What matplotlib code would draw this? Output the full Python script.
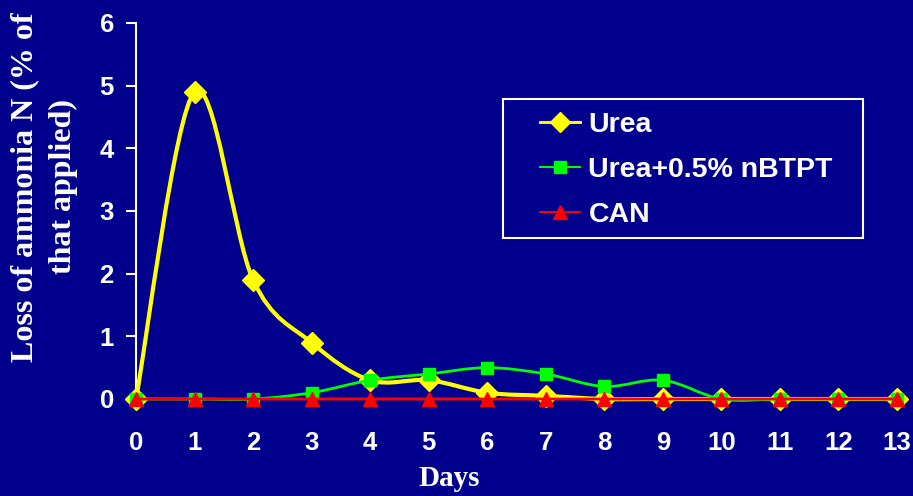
import numpy as np
import matplotlib.pyplot as plt
from matplotlib.path import Path
from matplotlib.patches import PathPatch, Rectangle
from matplotlib.lines import Line2D

# data
days = list(range(14))
urea = [0, 4.9, 1.9, 0.9, 0.3, 0.3, 0.1, 0.05, 0, 0, 0, 0, 0, 0]
urea_nbtpt = [0, 0, 0, 0.1, 0.3, 0.4, 0.5, 0.4, 0.2, 0.3, 0, 0, 0, 0]
can = [0, 0, 0, 0, 0, 0, 0, 0, 0, 0, 0, 0, 0, 0]

bg = '#00008C'


def smooth_path(x, y):
    # Excel-style smoothed line: cubic Bezier through the points
    pts = np.column_stack([x, y]).astype(float)
    padded = np.vstack([pts[0], pts, pts[-1]])
    verts = [pts[0]]
    codes = [Path.MOVETO]
    for i in range(len(pts) - 1):
        p0, p1, p2, p3 = padded[i], padded[i + 1], padded[i + 2], padded[i + 3]
        verts += [p1 + (p2 - p0) / 6, p2 - (p3 - p1) / 6, p2]
        codes += [Path.CURVE4] * 3
    return Path(verts, codes)


fig = plt.figure(figsize=(9.13, 4.96), dpi=100, facecolor=bg)
ax = fig.add_axes([136 / 913, 1 - 399 / 496, 761 / 913, 376 / 496])
ax.set_facecolor(bg)

series = [
    (urea, '#FFFF00', 'D', 11, 3.0, 'Urea'),
    (urea_nbtpt, '#00FF00', 's', 9, 2.0, 'Urea+0.5% nBTPT'),
    (can, '#FF0000', '^', 10, 2.0, 'CAN'),
]

handles = []
for z, (vals, col, mk, ms, lw, name) in enumerate(series):
    patch = PathPatch(smooth_path(days, vals), fill=False, edgecolor=col,
                      lw=lw, zorder=3 + 2 * z, clip_on=False)
    ax.add_patch(patch)
    ax.plot(days, vals, ls='none', marker=mk, ms=ms, color=col,
            markeredgecolor=col, zorder=4 + 2 * z, clip_on=False)
    handles.append(Line2D([], [], color=col, lw=lw * 0.7, marker=mk,
                          ms=ms * 0.95, markeredgecolor=col, label=name))

ax.set_xlim(0, 13)
ax.set_ylim(0, 6)
ax.set_xticks(days)
ax.set_yticks(range(7))

for s in ['top', 'right']:
    ax.spines[s].set_visible(False)
for s in ['left', 'bottom']:
    ax.spines[s].set_color('white')
    ax.spines[s].set_linewidth(1.5)

tick_font = {'family': 'Liberation Sans', 'weight': 'bold', 'size': 18.5}
ax.tick_params(axis='x', colors='white', length=5, width=1.5, pad=18)
ax.tick_params(axis='y', colors='white', length=7, width=1.5, pad=9)
for lab in ax.get_xticklabels() + ax.get_yticklabels():
    lab.set_fontproperties(tick_font)
    lab.set_color('white')

fig.text(449 / 913, 1 - 486 / 496, 'Days', ha='center', va='baseline',
         color='white', family='Liberation Serif', weight='bold', fontsize=21)
fig.text(44 / 913, 1 - 187 / 496, 'Loss of ammonia N (% of\nthat applied)',
         rotation=90, ha='center', va='center', multialignment='center',
         color='white', family='Liberation Serif', weight='bold', fontsize=23,
         linespacing=1.42)

# legend frame
fig.patches.append(Rectangle((503 / 913, 1 - 238 / 496), 360 / 913, 139 / 496,
                             transform=fig.transFigure, facecolor=bg,
                             edgecolor='white', lw=1.5, zorder=5))
leg = fig.legend(handles=handles, loc='center left',
                 bbox_to_anchor=(540 / 913, 1 - 170 / 496),
                 bbox_transform=fig.transFigure, borderaxespad=0, borderpad=0,
                 frameon=False, handlelength=1.4, handletextpad=0.3,
                 labelspacing=0.68,
                 prop={'family': 'Liberation Sans', 'weight': 'bold', 'size': 20.5})
leg.set_zorder(6)
for t in leg.get_texts():
    t.set_color('white')

fig.savefig('out.png', dpi=100, facecolor=bg)
